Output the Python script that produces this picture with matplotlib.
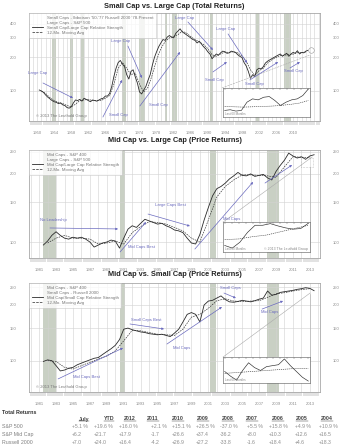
import numpy as np
import matplotlib
matplotlib.use('Agg')
import matplotlib.pyplot as plt
from matplotlib.ticker import FixedLocator, MultipleLocator, NullLocator, FormatStrFormatter
from matplotlib.lines import Line2D
from matplotlib.patches import Rectangle

plt.rcParams['font.family'] = ['Liberation Sans', 'DejaVu Sans']

# ---------------- data ----------------
# Small cap / large cap relative strength (semi-annual, 1950.5 .. 2013.5)
sl_dates = np.arange(1950.5, 2013.6, 0.5)
sl_rs = [102, 100, 97, 92, 88, 85, 82, 80, 79, 77, 78, 75, 74, 71, 70, 72, 78, 83, 82, 84,
         81, 86, 84, 82, 80, 83, 82, 81, 83, 85, 86, 90, 90, 95, 110, 135, 160, 180, 188, 175,
         165, 140, 128, 150, 155, 134, 118, 98, 94, 102, 110, 125, 140, 170, 200, 225, 250, 270, 290, 285,
         305, 315, 305, 300, 330, 345, 362, 340, 330, 320, 310, 300, 290, 285, 270, 280, 265, 250, 240, 225,
         215, 195, 205, 215, 210, 220, 228, 225, 218, 220, 228, 225, 222, 212, 205, 200, 180, 168, 150, 130,
         140, 135, 155, 160, 158, 165, 178, 185, 190, 195, 200, 205, 210, 215, 205, 212, 218, 205, 215, 222,
         218, 230, 215, 222, 220, 228, 232]
sl_ma_dates = np.arange(1951, 2014)
sl_ma = [100, 95, 87, 82, 79, 77, 74, 72, 76, 82, 83, 84, 82, 82, 82, 86, 91, 115, 160, 180,
         160, 140, 145, 115, 98, 108, 140, 190, 240, 278, 300, 310, 320, 345, 332, 308, 290, 276, 262, 240,
         212, 205, 215, 224, 222, 225, 220, 206, 186, 155, 138, 152, 160, 178, 190, 200, 208, 210, 212, 214,
         222, 222, 224]

# Mid cap / large cap relative strength (semi-annual, 1981.5 .. 2013.5)
ml_dates = np.arange(1981.5, 2013.6, 0.5)
ml_rs = [97, 101, 107, 111, 107, 104, 103, 105, 104, 105, 103, 100, 95, 97, 99, 100, 102, 101, 94, 104,
         114, 118, 116, 121, 126, 124, 122, 120, 121, 118, 116, 113, 112, 110, 104, 99, 98, 108, 125, 142,
         160, 172, 176, 182, 190, 196, 203, 197, 196, 200, 195, 197, 199, 192, 188, 205, 218, 230, 247, 240,
         235, 238, 232, 240, 243]
ml_ma_dates = np.arange(1982, 2014)
ml_ma = [99, 104, 107, 104, 104, 103, 98, 99, 101, 98, 110, 117, 123, 122, 120, 116, 112, 104, 100, 125,
         158, 176, 188, 198, 198, 197, 196, 193, 215, 238, 237, 236]

# Mid cap / small cap relative strength (semi-annual, 1981.5 .. 2013.5)
ms_dates = np.arange(1981.5, 2013.6, 0.5)
ms_rs = [99, 101, 100, 94, 88, 89, 91, 92, 95, 97, 99, 101, 103, 104, 108, 112, 116, 121, 130, 148,
         150, 147, 145, 143, 142, 140, 139, 138, 139, 137, 135, 141, 148, 162, 178, 182, 178, 162, 200, 210,
         212, 218, 224, 214, 208, 207, 209, 212, 210, 208, 211, 215, 218, 238, 226, 228, 234, 236, 238, 240,
         243, 245, 248, 246, 239]
ms_ma_dates = np.arange(1982, 2014)
ms_ma = [100, 99, 92, 90, 94, 98, 102, 106, 113, 128, 146, 145, 142, 139, 138, 137, 148, 172, 178, 192,
         211, 216, 210, 209, 210, 211, 220, 230, 233, 238, 242, 245]

# insets: last 60 months
inset1_rs = [20, 22, 18, 20, 45, 55, 52, 60, 62, 50, 35, 45, 52, 55, 65, 85]
inset1_ma = [32, 31, 30, 31, 32, 33, 35, 38, 42, 50]
inset2_rs = [20, 12, 30, 60, 82, 82, 87, 80, 74, 70, 72, 88]
inset2_ma = [38, 40, 47, 52, 62, 72, 82]
inset3_rs = [12, 7, 3, 13, 21, 16, 13, 17, 18, 19, 25, 18, 12, 6, 2]
inset3_ma = [10, 11, 12, 13, 14, 15, 15]

recessions_long = [(1953.5, 1954.4), (1957.6, 1958.3), (1960.3, 1961.1), (1969.9, 1970.9),
                   (1973.9, 1975.2), (1980.0, 1980.5), (1981.5, 1982.9), (1990.5, 1991.2),
                   (2001.2, 2001.9), (2007.9, 2009.5)]
recessions_short = [(1981.5, 1983.0), (1990.6, 1991.2), (2001.2, 2001.9), (2007.9, 2009.4)]

years_top = [1950, 1954, 1958, 1962, 1966, 1970, 1974, 1978, 1982, 1986, 1990, 1994, 1998, 2002, 2006, 2010]
years_mid = list(range(1981, 2014, 2))

col_heads = ['July', 'YTD', '2012', '2011', '2010', '2009', '2008', '2007', '2006', '2005', '2004']
row_names = ['S&P 500', 'S&P Mid Cap', 'Russell 2000']
sp500 = ['+5.1 %', '+19.6 %', '+16.0 %', '+2.1 %', '+15.1 %', '+26.5 %', '-37.0 %', '+5.5 %', '+15.8 %', '+4.9 %', '+10.9 %']
spmid = ['+6.2', '+21.7', '+17.9', '-1.7', '+26.6', '+37.4', '-36.2', '+8.0', '+10.3', '+12.6', '+16.5']
r2000 = ['+7.0', '+24.0', '+16.4', '-4.2', '+26.9', '+27.2', '-33.8', '-1.6', '+18.4', '+4.6', '+18.3']

# ---------------- styling ----------------
W, H = 350, 447
fig = plt.figure(figsize=(W / 100, H / 100), dpi=100)
LINE = '#2a2a2a'
ANN = '#6b6bbf'
GRID = '#d2d2d2'
REC = '#c9d0c4'
SPINE = '#a8a8a8'
TXT = '#8a8a8a'


def px_axes(x0, y0, x1, y1):
    return fig.add_axes([x0 / W, 1 - y1 / H, (x1 - x0) / W, (y1 - y0) / H])


def setup_main(ax, xlim, ylim, yticks, xlabels, minor_step, recessions):
    ax.set_yscale('log')
    ax.set_xlim(*xlim)
    ax.set_ylim(*ylim)
    for a, b in recessions:
        ax.axvspan(a, b, color=REC, lw=0, zorder=0)
    for yr in range(int(xlim[0]) + 1, int(xlim[1]) + 1):
        ax.axvline(yr, color=GRID, lw=0.4, zorder=0.5)
    for v in yticks:
        ax.axhline(v, color=GRID, lw=0.4, zorder=0.5)
    ax.yaxis.set_major_locator(FixedLocator(yticks))
    ax.yaxis.set_minor_locator(NullLocator())
    ax.yaxis.set_major_formatter(FormatStrFormatter('%d'))
    ax.tick_params(axis='y', which='both', length=0, labelsize=3, labelcolor=TXT,
                   labelleft=True, labelright=True, pad=9)
    ax.xaxis.set_major_locator(FixedLocator(xlabels))
    ax.xaxis.set_minor_locator(MultipleLocator(minor_step))
    ax.tick_params(axis='x', which='major', length=3, width=0.3, color='#777777',
                   labelsize=3, labelcolor=TXT, pad=4)
    ax.tick_params(axis='x', which='minor', length=3, width=0.3, color='#777777')
    for s in ax.spines.values():
        s.set_color(SPINE)
        s.set_linewidth(0.6)


def legend(ax, l1, l2, l3):
    handles = [Line2D([], [], color='none'), Line2D([], [], color='none'),
               Line2D([], [], color=LINE, lw=0.6), Line2D([], [], color=LINE, lw=0.5, ls='--')]
    lg = ax.legend(handles, [l1, l2, l3, '12-Mo. Moving Avg'], loc='upper left', fontsize=3.2,
                   frameon=True, fancybox=False, borderaxespad=0, handlelength=2.6,
                   labelspacing=0.22, borderpad=0.6, handletextpad=0.8)
    lg.get_frame().set_edgecolor('#bbbbbb')
    lg.get_frame().set_linewidth(0.4)
    lg.set_zorder(5)
    for t in lg.get_texts():
        t.set_color('#777777')


def arrow(ax, p0, p1):
    ax.annotate('', xy=p1, xytext=p0, xycoords='axes fraction', textcoords='axes fraction',
                arrowprops=dict(arrowstyle='-|>', color=ANN, lw=0.5, mutation_scale=3,
                                shrinkA=0, shrinkB=0), zorder=4)


def label(ax, x, y, s):
    ax.text(x, y, s, transform=ax.transAxes, fontsize=3, color=ANN, ha='center', va='center', zorder=4)


def connector(ax, a, b, ls='-'):
    ax.plot([a[0], b[0]], [a[1], b[1]], transform=ax.transAxes, color='#aaaaaa', lw=0.4, ls=ls, zorder=3)


def inset(x0, y0, x1, y1, rs, ma, ylim, copyright=False):
    ia = px_axes(x0, y0, x1, y1)
    ia.set_facecolor('white')
    ia.plot(np.linspace(0, 1, len(rs)), rs, color=LINE, lw=0.45)
    ia.plot(np.linspace(0, 1, len(ma)), ma, color=LINE, lw=0.4, ls='--', dashes=(2, 1.5))
    ia.set_xlim(-0.02, 1.02)
    ia.set_ylim(*ylim)
    ia.xaxis.set_ticks_position('top')
    ia.set_xticks(np.linspace(0, 1, 13))
    ia.set_xticklabels([])
    ia.set_yticks([])
    ia.tick_params(axis='x', direction='in', length=1.5, width=0.3, color='#666666')
    for s in ia.spines.values():
        s.set_color('#777777')
        s.set_linewidth(0.5)
    ia.text(0.02, 0.03, 'Last 60 Months', transform=ia.transAxes, fontsize=2.2, color='#888888',
            va='bottom')
    if copyright:
        ia.text(0.98, 0.03, '\u00a9 2013 The Leuthold Group', transform=ia.transAxes, fontsize=2.5,
                color='#888888', va='bottom', ha='right')
    return ia


def title(y, s):
    fig.text(174.5 / W, 1 - y / H, s, ha='center', va='center', fontsize=5.3,
             fontweight='bold', color='#222222')


# ---------------- panel 1 ----------------
ax1 = px_axes(29, 13, 320, 121)
setup_main(ax1, (1948.1, 2016.3), (53.7, 502), [100, 200, 300, 400], years_top, 0.5, recessions_long)
ax1.plot(sl_ma_dates, sl_ma, color=LINE, lw=0.45, ls='--', dashes=(2.5, 1.5), zorder=2)
ax1.plot(sl_dates, sl_rs, color=LINE, lw=0.6, zorder=2)
title(6, 'Small Cap vs. Large Cap (Total Returns)')
legend(ax1, "Small Caps - Ibbotson '50-'77 Russell 2000 '78-Present", 'Large Caps - S&P 500',
       'Small Cap/Large Cap Relative Strength')
ax1.text(0.025, 0.04, '\u00a9 2013 The Leuthold Group', transform=ax1.transAxes, fontsize=3,
         color='#777777', zorder=4)
label(ax1, 0.03, 0.444, 'Large Cap')
arrow(ax1, (0.048, 0.352), (0.151, 0.213))
label(ax1, 0.316, 0.741, 'Large Cap')
arrow(ax1, (0.340, 0.694), (0.388, 0.398))
label(ax1, 0.533, 0.954, 'Large Cap')
arrow(ax1, (0.546, 0.917), (0.632, 0.657))
label(ax1, 0.677, 0.852, 'Large Cap')
arrow(ax1, (0.684, 0.806), (0.749, 0.537))
label(ax1, 0.306, 0.056, 'Small Cap')
arrow(ax1, (0.254, 0.037), (0.320, 0.380))
label(ax1, 0.443, 0.148, 'Small Cap')
arrow(ax1, (0.381, 0.139), (0.519, 0.639))
label(ax1, 0.636, 0.380, 'Small Cap')
arrow(ax1, (0.632, 0.454), (0.680, 0.546))
label(ax1, 0.773, 0.343, 'Small Cap')
arrow(ax1, (0.759, 0.380), (0.856, 0.546))
label(ax1, 0.907, 0.463, 'Small Cap')
arrow(ax1, (0.897, 0.491), (0.931, 0.546))
connector(ax1, (0.663, 0.306), (0.966, 0.611), ls='--')
connector(ax1, (0.966, 0.306), (0.966, 0.611))
ax1.plot([0.968], [0.66], transform=ax1.transAxes, marker='o', ms=4, mfc='none', mec='#999999', mew=0.4)
inset(223, 88, 310, 117, inset1_rs, inset1_ma, (0, 88))

# ---------------- panel 2 ----------------
ax2 = px_axes(29, 150, 320, 258)
setup_main(ax2, (1979.8, 2014.2), (85, 255), [100, 150, 200, 250], years_mid, 0.25, recessions_short)
ax2.plot(ml_ma_dates, ml_ma, color=LINE, lw=0.45, ls='--', dashes=(2.5, 1.5), zorder=2)
ax2.plot(ml_dates, ml_rs, color=LINE, lw=0.6, zorder=2)
title(141, 'Mid Cap vs. Large Cap (Price Returns)')
legend(ax2, 'Mid Caps - S&P 400', 'Large Caps - S&P 500', 'Mid Cap/Large Cap Relative Strength')
label(ax2, 0.085, 0.352, 'No Leadership')
arrow(ax2, (0.072, 0.278), (0.306, 0.269))
label(ax2, 0.385, 0.102, 'Mid Caps Best')
arrow(ax2, (0.313, 0.056), (0.402, 0.333))
label(ax2, 0.485, 0.491, 'Large Caps Best')
arrow(ax2, (0.409, 0.407), (0.553, 0.296))
label(ax2, 0.698, 0.361, 'Mid Caps')
arrow(ax2, (0.570, 0.083), (0.770, 0.704))
arrow(ax2, (0.811, 0.694), (0.904, 0.861))
connector(ax2, (0.667, 0.333), (0.973, 0.935))
connector(ax2, (0.966, 0.333), (0.966, 0.843))
ax2.add_patch(Rectangle((0.935, 0.843), 0.041, 0.083, transform=ax2.transAxes, fill=False,
                        ec='#999999', lw=0.4, ls=':', zorder=3))
inset(223, 222, 310, 252, inset2_rs, inset2_ma, (0, 92), copyright=True)

# ---------------- panel 3 ----------------
ax3 = px_axes(29, 283, 320, 392)
setup_main(ax3, (1979.8, 2014.2), (67.7, 263), [100, 150, 200, 250], years_mid, 0.25, recessions_short)
ax3.plot(ms_ma_dates, ms_ma, color=LINE, lw=0.45, ls='--', dashes=(2.5, 1.5), zorder=2)
ax3.plot(ms_dates, ms_rs, color=LINE, lw=0.6, zorder=2)
title(275, 'Mid Cap vs. Small Cap (Price Returns)')
legend(ax3, 'Mid Caps - S&P 400', 'Small Caps - Russell 2000', 'Mid Cap/Small Cap Relative Strength')
ax3.text(0.025, 0.04, '\u00a9 2013 The Leuthold Group', transform=ax3.transAxes, fontsize=3,
         color='#777777', zorder=4)
label(ax3, 0.196, 0.138, 'Mid Caps Best')
arrow(ax3, (0.100, 0.120), (0.323, 0.404))
label(ax3, 0.402, 0.661, 'Small Caps Best')
arrow(ax3, (0.347, 0.624), (0.464, 0.578))
label(ax3, 0.526, 0.404, 'Mid Caps')
arrow(ax3, (0.474, 0.440), (0.663, 0.780))
label(ax3, 0.691, 0.954, 'Small Caps')
arrow(ax3, (0.670, 0.908), (0.711, 0.862))
label(ax3, 0.828, 0.734, 'Mid Caps')
arrow(ax3, (0.801, 0.761), (0.873, 0.835))
connector(ax3, (0.667, 0.321), (0.966, 0.908))
connector(ax3, (0.966, 0.321), (0.966, 0.90))
inset(223, 357, 310, 383, inset3_rs, inset3_ma, (0, 27))

# ---------------- table ----------------
fig.text(2 / W, 1 - 412 / H, 'Total Returns', fontsize=3.9, fontweight='bold', color='#333333', va='center')
head_x = [84, 109, 130, 153, 178, 203, 228, 252, 278, 302, 327]
val_x = [72, 94, 119, 151, 172, 196, 220, 247, 269, 295, 319]
heads = []
for hx, h in zip(head_x, col_heads):
    heads.append(fig.text(hx / W, 1 - 419 / H, h, fontsize=3.8, fontweight='bold', color='#444444',
                          ha='center', va='center'))
for ry, name, vals in zip([427, 434.5, 442], row_names, [sp500, spmid, r2000]):
    fig.text(2 / W, 1 - ry / H, name, fontsize=3.8, color='#808080', va='center')
    for vx, v in zip(val_x, vals):
        fig.text(vx / W, 1 - ry / H, v, fontsize=3.7, color='#8c8c8c', va='center', ha='left')

# underline the column headers
fig.canvas.draw()
r = fig.canvas.get_renderer()
for t in heads:
    bb = t.get_window_extent(r)
    fig.add_artist(Line2D([bb.x0 / W, bb.x1 / W], [(bb.y0 + 0.3) / H] * 2,
                          transform=fig.transFigure, color='#444444', lw=0.35))

fig.savefig('out.png', dpi=100)
